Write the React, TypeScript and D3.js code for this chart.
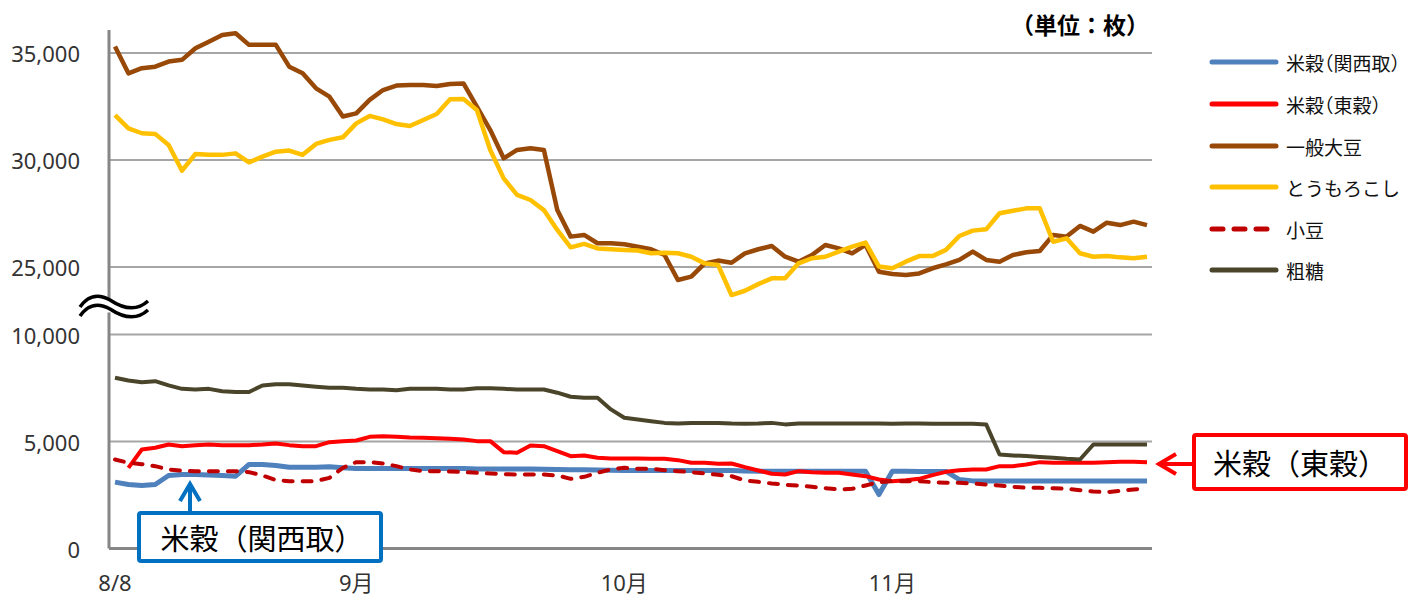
import React from "react";
import * as d3 from "d3";

const xLabels = [
  { i: 0, label: "8/8" },
  { i: 18, label: "9月" },
  { i: 38, label: "10月" },
  { i: 58, label: "11月" },
];
const upperTicks = [25000, 30000, 35000];
const lowerTicks = [0, 5000, 10000];

const seriesNames = ["米穀（関西取）", "米穀（東穀）", "一般大豆", "とうもろこし", "小豆", "粗糖"];

const kansai: (number | null)[] = [
  3100, 2990, 2945, 2990, 3410, 3460, 3460, 3440, 3410, 3380,
  3930, 3930, 3880, 3800, 3800, 3800, 3820, 3770, 3740, 3740,
  3740, 3740, 3740, 3740, 3740, 3740, 3740, 3720, 3720, 3720,
  3720, 3720, 3700, 3690, 3680, 3680, 3670, 3660, 3650, 3650,
  3650, 3650, 3650, 3650, 3650, 3650, 3640, 3620, 3610, 3610,
  3610, 3610, 3610, 3610, 3610, 3610, 3610, 2520, 3610, 3610,
  3600, 3600, 3600, 3220, 3160, 3150, 3150, 3150, 3150, 3150,
  3150, 3150, 3150, 3150, 3150, 3150, 3150, 3150,
];
const tokoku: (number | null)[] = [
  null, 3770, 4627, 4705, 4861, 4783, 4830, 4861, 4830, 4830,
  4830, 4861, 4908, 4830, 4783, 4783, 4970, 5017, 5048, 5219,
  5250, 5219, 5188, 5173, 5157, 5126, 5095, 5017, 5017, 4503,
  4471, 4814, 4783, 4549, 4316, 4347, 4238, 4207, 4207, 4207,
  4191, 4191, 4129, 4004, 4004, 3957, 3973, 3802, 3646, 3490,
  3459, 3615, 3568, 3537, 3537, 3459, 3381, 3225, 3147, 3194,
  3256, 3428, 3583, 3661, 3692, 3692, 3848, 3848, 3926, 4035,
  4004, 4004, 4004, 4004, 4035, 4051, 4051, 4035,
];
const soybean: (number | null)[] = [
  35300, 34050, 34290, 34360, 34600, 34680, 35220, 35530, 35840, 35920,
  35380, 35380, 35380, 34360, 34050, 33350, 32960, 32030, 32180, 32810,
  33270, 33480, 33510, 33510, 33460, 33550, 33580, 32490, 31400, 30080,
  30470, 30550, 30470, 27660, 26420, 26500, 26110, 26110, 26060, 25950,
  25830, 25560, 24390, 24550, 25170, 25300, 25200, 25640, 25830, 25980,
  25480, 25250, 25560, 26030, 25870, 25640, 26030, 24780, 24670, 24630,
  24700, 24940, 25120, 25330, 25720, 25330, 25250, 25560, 25690, 25750,
  26500, 26420, 26920, 26650, 27070, 26960, 27120, 26960,
];
const corn: (number | null)[] = [
  32100, 31480, 31250, 31220, 30700, 29500, 30280, 30240, 30240, 30310,
  29890, 30160, 30390, 30440, 30240, 30750, 30940, 31060, 31710, 32060,
  31900, 31680, 31590, 31870, 32150, 32840, 32850, 32340, 30470, 29140,
  28370, 28130, 27660, 26730, 25920, 26080, 25870, 25830, 25800, 25770,
  25640, 25670, 25640, 25480, 25170, 25090, 23690, 23890, 24200, 24470,
  24470, 25170, 25410, 25480, 25720, 25950, 26140, 25020, 24940, 25250,
  25510, 25510, 25800, 26450, 26700, 26760, 27510, 27630, 27740, 27740,
  26180, 26340, 25640, 25480, 25510, 25450, 25410, 25480,
];
const azuki: (number | null)[] = [
  4160, 4004, 3942, 3848, 3692, 3630, 3615, 3615, 3615, 3615,
  3568, 3412, 3194, 3147, 3147, 3147, 3303, 3770, 4035, 4035,
  3973, 3848, 3692, 3615, 3615, 3600, 3568, 3537, 3505, 3474,
  3459, 3459, 3459, 3412, 3256, 3350, 3537, 3692, 3770, 3724,
  3724, 3661, 3615, 3568, 3505, 3443, 3381, 3178, 3116, 3038,
  2976, 2945, 2882, 2820, 2758, 2789, 2945, 3100, 3147, 3147,
  3147, 3100, 3069, 3069, 3038, 2991, 2945, 2882, 2836, 2836,
  2820, 2789, 2727, 2664, 2633, 2695, 2758, 2804,
];
const rawSugar: (number | null)[] = [
  7980, 7850, 7770, 7820, 7620, 7460, 7430, 7460, 7350, 7310,
  7310, 7620, 7670, 7670, 7620, 7560, 7510, 7510, 7460, 7430,
  7430, 7400, 7460, 7460, 7460, 7430, 7430, 7490, 7490, 7460,
  7430, 7430, 7430, 7280, 7090, 7040, 7040, 6500, 6110, 6030,
  5950, 5870, 5840, 5870, 5870, 5870, 5840, 5830, 5840, 5870,
  5800, 5840, 5840, 5840, 5840, 5840, 5840, 5840, 5830, 5840,
  5840, 5830, 5830, 5830, 5830, 5800, 4390, 4350, 4320, 4280,
  4240, 4190, 4160, 4860, 4860, 4860, 4860, 4860,
];

const W = 1422;
const H = 601;
const fontNum = "'Noto Sans', 'Noto Sans CJK JP', sans-serif";
const fontJP = "'Noto Sans CJK JP', 'Noto Sans', sans-serif";

export default function App() {
  const n = soybean.length;
  const idx = d3.range(n);
  const x = d3.scalePoint<number>().domain(idx).range([115, 1147]);
  const yUp = d3.scaleLinear().domain([25000, 35000]).range([267, 53]);
  const yLo = d3.scaleLinear().domain([0, 10000]).range([548.5, 334.5]);
  const plotL = 109;
  const plotR = 1152;

  const mkLine = (y: d3.ScaleLinear<number, number>) =>
    d3
      .line<number | null>()
      .defined((d) => d != null)
      .x((_, i) => x(i) as number)
      .y((d) => y(d as number));

  const series = [
    { name: seriesNames[0], data: kansai, scale: yLo, color: "#4F81BD", w: 5, dash: null },
    { name: seriesNames[1], data: tokoku, scale: yLo, color: "#FF0000", w: 4, dash: null },
    { name: seriesNames[2], data: soybean, scale: yUp, color: "#984807", w: 4.5, dash: null },
    { name: seriesNames[3], data: corn, scale: yUp, color: "#FFC000", w: 4.5, dash: null },
    { name: seriesNames[4], data: azuki, scale: yLo, color: "#C00000", w: 4, dash: "9,10" },
    { name: seriesNames[5], data: rawSugar, scale: yLo, color: "#4A452A", w: 4, dash: null },
  ];

  const legendY = [62, 104, 146, 187, 229, 270];

  const wave = (dy: number) => {
    const p = d3.path();
    p.moveTo(80, 307 + dy);
    p.bezierCurveTo(86, 298 + dy, 96, 292 + dy, 110, 300 + dy);
    p.bezierCurveTo(122, 308 + dy, 136, 312 + dy, 148, 301 + dy);
    return p.toString();
  };

  return (
    <svg
      width={W}
      height={H}
      style={{ position: "absolute", left: 0, top: 0, background: "#fff" }}
    >
      <rect x={0} y={0} width={W} height={H} fill="#fff" />
      {upperTicks.map((t) => (
        <line key={"gu" + t} x1={plotL} x2={plotR} y1={yUp(t)} y2={yUp(t)} stroke="#A6A6A6" strokeWidth={2} />
      ))}
      {lowerTicks
        .filter((t) => t > 0)
        .map((t) => (
          <line key={"gl" + t} x1={plotL} x2={plotR} y1={yLo(t)} y2={yLo(t)} stroke="#A6A6A6" strokeWidth={2} />
        ))}
      <line x1={plotL} x2={plotL} y1={30} y2={yLo(0)} stroke="#868686" strokeWidth={3} />
      <line x1={plotL} x2={plotR} y1={yLo(0)} y2={yLo(0)} stroke="#868686" strokeWidth={3} />

      {upperTicks.map((t) => (
        <text key={"tu" + t} x={80} y={yUp(t)} textAnchor="end" dominantBaseline="central" fontFamily={fontNum} fontSize={22} fill="#333">
          {d3.format(",")(t)}
        </text>
      ))}
      {lowerTicks.map((t) => (
        <text key={"tl" + t} x={80} y={yLo(t)} textAnchor="end" dominantBaseline="central" fontFamily={fontNum} fontSize={22} fill="#333">
          {d3.format(",")(t)}
        </text>
      ))}
      {xLabels.map((d) => (
        <text key={d.label} x={x(d.i) as number} y={591} textAnchor="middle" fontFamily={fontNum} fontSize={22} fill="#333">
          {d.label}
        </text>
      ))}

      {series.map((s) => (
        <path
          key={s.name}
          d={mkLine(s.scale)(s.data) || ""}
          fill="none"
          stroke={s.color}
          strokeWidth={s.w}
          strokeLinejoin="round"
          strokeLinecap={s.dash ? "round" : "butt"}
          strokeDasharray={s.dash || undefined}
        />
      ))}

      <path d={wave(0) + "L148,309L" + "80,315Z"} fill="#fff" />
      <path d={wave(0)} fill="none" stroke="#000" strokeWidth={3.5} />
      <path d={wave(9)} fill="none" stroke="#000" strokeWidth={3.5} />

      <text x={1149} y={24} textAnchor="end" dominantBaseline="central" fontFamily={fontJP} fontSize={23} fontWeight="bold" fill="#000">
        （単位：枚）
      </text>

      {series.map((s, k) => (
        <g key={"lg" + k}>
          <line
            x1={1212}
            x2={1276}
            y1={legendY[k]}
            y2={legendY[k]}
            stroke={s.color}
            strokeWidth={5}
            strokeLinecap="round"
            strokeDasharray={s.dash ? "11,11" : undefined}
          />
          <text
            x={1286}
            y={legendY[k]}
            dominantBaseline="central"
            fontFamily={fontJP}
            fontSize={19}
            fill="#111"
            style={{ fontFeatureSettings: '"halt"' }}
          >
            {s.name}
          </text>
        </g>
      ))}

      <rect x={139} y={513} width={242} height={48} fill="#fff" stroke="#0070C0" strokeWidth={4} rx={2} />
      <text x={262} y={537} textAnchor="middle" dominantBaseline="central" fontFamily={fontJP} fontSize={29} fill="#000">
        米穀（関西取）
      </text>
      <path d="M190,511 L190,484" stroke="#0070C0" strokeWidth={4} fill="none" />
      <path d="M180,501 L190,484 L200,501" stroke="#0070C0" strokeWidth={4} fill="none" strokeLinejoin="miter" />

      <rect x={1194} y={435} width={212} height={54} fill="#fff" stroke="#FF0000" strokeWidth={4} rx={2} />
      <text x={1300} y={462} textAnchor="middle" dominantBaseline="central" fontFamily={fontJP} fontSize={29} fill="#000">
        米穀（東穀）
      </text>
      <path d="M1192,464 L1159,464" stroke="#FF0000" strokeWidth={4} fill="none" />
      <path d="M1176,454 L1159,464 L1176,474" stroke="#FF0000" strokeWidth={4} fill="none" />
    </svg>
  );
}
